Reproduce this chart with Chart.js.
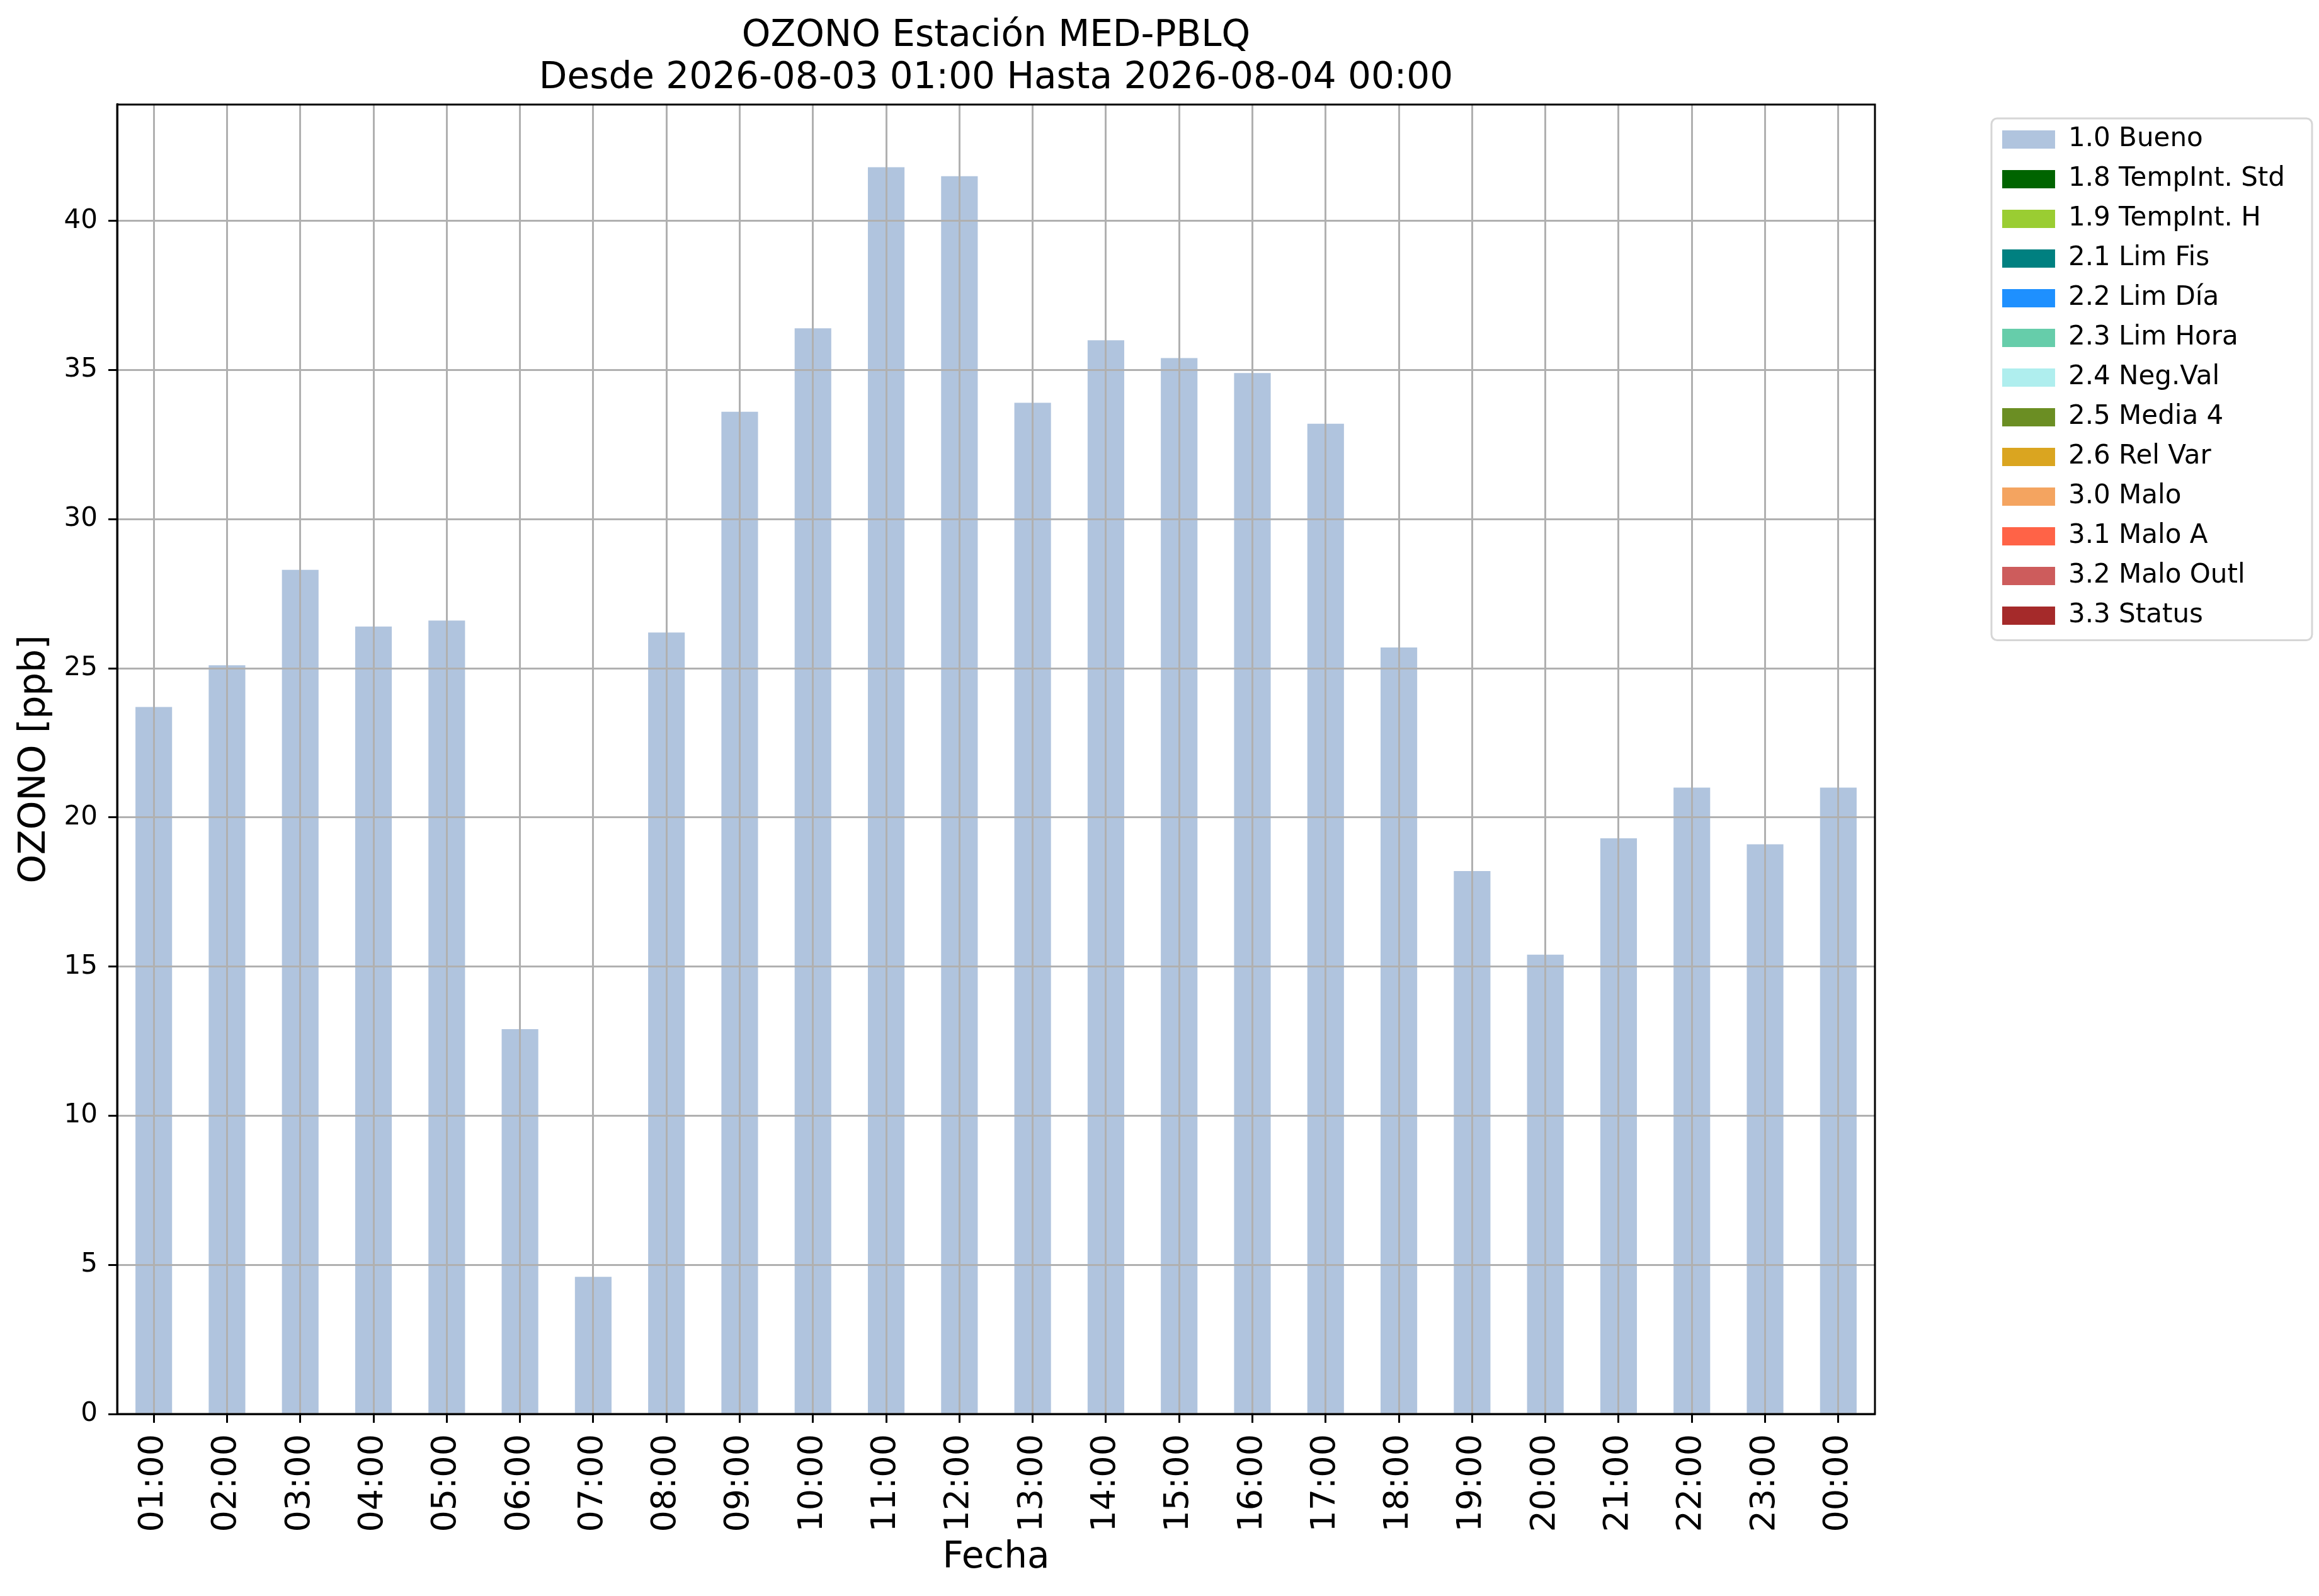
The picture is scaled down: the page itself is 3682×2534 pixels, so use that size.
<!DOCTYPE html>
<html>
<head>
<meta charset="utf-8">
<title>OZONO Estación MED-PBLQ</title>
<script src="https://cdn.jsdelivr.net/npm/chart.js@4.4.1/dist/chart.umd.min.js"></script>
<style>
  html, body { margin: 0; padding: 0; background: #fff; }
  #wrap { width: 3682px; height: 2534px; }
</style>
</head>
<body>
<div id="wrap"><canvas id="chart" width="3682" height="2534"></canvas></div>
<script>
// hourly labels (x axis)
const hours = ["01:00", "02:00", "03:00", "04:00", "05:00", "06:00", "07:00", "08:00",
  "09:00", "10:00", "11:00", "12:00", "13:00", "14:00", "15:00", "16:00",
  "17:00", "18:00", "19:00", "20:00", "21:00", "22:00", "23:00", "00:00"];

// ozone values [ppb], all flagged 1.0 Bueno
const ozono = [23.7, 25.1, 28.3, 26.4, 26.6, 12.9, 4.6, 26.2, 33.6, 36.4, 41.8, 41.5,
  33.9, 36.0, 35.4, 34.9, 33.2, 25.7, 18.2, 15.4, 19.3, 21.0, 19.1, 21.0];

// quality flags shown in the legend
const flagLabels = ["1.0 Bueno", "1.8 TempInt. Std", "1.9 TempInt. H", "2.1 Lim Fis",
  "2.2 Lim Día", "2.3 Lim Hora", "2.4 Neg.Val", "2.5 Media 4", "2.6 Rel Var",
  "3.0 Malo", "3.1 Malo A", "3.2 Malo Outl", "3.3 Status"];
const flagColors = ["#b0c4de", "#006400", "#9acd32", "#008080", "#1e90ff", "#66cdaa",
  "#afeeee", "#6b8e23", "#daa520", "#f4a460", "#ff6347", "#cd5c5c", "#a52a2a"];

const titleLines = ["OZONO Estación MED-PBLQ", "Desde 2026-08-03 01:00 Hasta 2026-08-04 00:00"];
const yTitle = "OZONO [ppb]";
const xTitle = "Fecha";

const FONT = "'DejaVu Sans', sans-serif";
const LEGEND_FS = 42;
const LEGEND_PAD = 21;
const LEGEND_TITLE_H = 13.5;

// only the first flag has values, the rest just show up in the legend
const datasets = flagLabels.map((label, i) => ({
  label: label,
  data: i === 0 ? ozono : [],
  backgroundColor: flagColors[i],
  borderWidth: 0,
  grouped: false,
  barPercentage: 0.5,
  categoryPercentage: 1.0
}));

// box around plot area + legend frame (matplotlib style)
const framePlugin = {
  id: "frame",
  afterDraw(chart) {
    const { ctx, chartArea: a, legend } = chart;
    ctx.save();
    ctx.strokeStyle = "#000";
    ctx.lineWidth = 3;
    ctx.strokeRect(a.left, a.top, a.right - a.left, a.bottom - a.top);

    const row0 = legend.top + LEGEND_TITLE_H + LEGEND_PAD + LEGEND_FS / 2;
    const n = flagLabels.length;
    ctx.strokeStyle = "#d6d6d6";
    ctx.lineWidth = 3;
    ctx.beginPath();
    ctx.roundRect(legend.left + 4, row0 - 33.5, 509, (n - 1) * (LEGEND_FS + LEGEND_PAD) + 72.5, 9);
    ctx.stroke();
    ctx.restore();
  }
};

new Chart(document.getElementById("chart"), {
  type: "bar",
  data: { labels: hours, datasets: datasets },
  plugins: [framePlugin],
  options: {
    responsive: false,
    devicePixelRatio: 1,
    animation: false,
    layout: { padding: { left: 0, right: 44, top: 0, bottom: 0 } },
    plugins: {
      title: {
        display: true,
        text: titleLines,
        fullSize: false,
        color: "#000",
        font: { family: FONT, size: 58, weight: "normal", lineHeight: 1.15 },
        padding: { top: 24.5, bottom: 8.1 }
      },
      legend: {
        display: true,
        position: "right",
        align: "start",
        fullSize: false,
        title: { display: true, text: "", font: { size: 10, lineHeight: 1.35 }, padding: 0 },
        labels: {
          color: "#000",
          font: { family: FONT, size: LEGEND_FS },
          boxWidth: 84,
          boxHeight: 29,
          padding: LEGEND_PAD
        }
      },
      tooltip: { enabled: false }
    },
    scales: {
      x: {
        type: "category",
        offset: true,
        grid: {
          display: true,
          offset: false,
          z: 1,
          color: "#b0b0b0",
          lineWidth: 3,
          drawTicks: true,
          tickLength: 14,
          tickColor: "#000",
          tickWidth: 3
        },
        border: { display: true, color: "#000", width: 3, z: 2 },
        ticks: {
          autoSkip: false,
          minRotation: 90,
          maxRotation: 90,
          padding: 18,
          color: "#000",
          font: { family: FONT, size: 54 }
        },
        title: {
          display: true,
          text: xTitle,
          color: "#000",
          font: { family: FONT, size: 58, lineHeight: 1.2 },
          padding: { top: 0, bottom: 25 }
        },
        afterFit(scale) { scale.height = 289; }
      },
      y: {
        type: "linear",
        position: "left",
        min: 0,
        max: 43.9,
        grid: {
          z: 1,
          color: "#b0b0b0",
          lineWidth: 3,
          drawTicks: true,
          tickLength: 14,
          tickColor: "#000",
          tickWidth: 3
        },
        border: { display: true, color: "#000", width: 3, z: 2 },
        ticks: {
          stepSize: 5,
          includeBounds: false,
          padding: 17,
          color: "#000",
          font: { family: FONT, size: 42 }
        },
        title: {
          display: true,
          text: yTitle,
          color: "#000",
          font: { family: FONT, size: 58, lineHeight: 1.2 },
          padding: { top: 21, bottom: 0 }
        },
        afterFit(scale) { scale.width = 186; }
      },
      // empty spacer between plot and legend
      gap: {
        type: "linear",
        position: "right",
        display: true,
        grid: { display: false, drawTicks: false },
        border: { display: false },
        ticks: { display: false },
        afterFit(scale) { scale.width = 181; }
      }
    }
  }
});
</script>
</body>
</html>
